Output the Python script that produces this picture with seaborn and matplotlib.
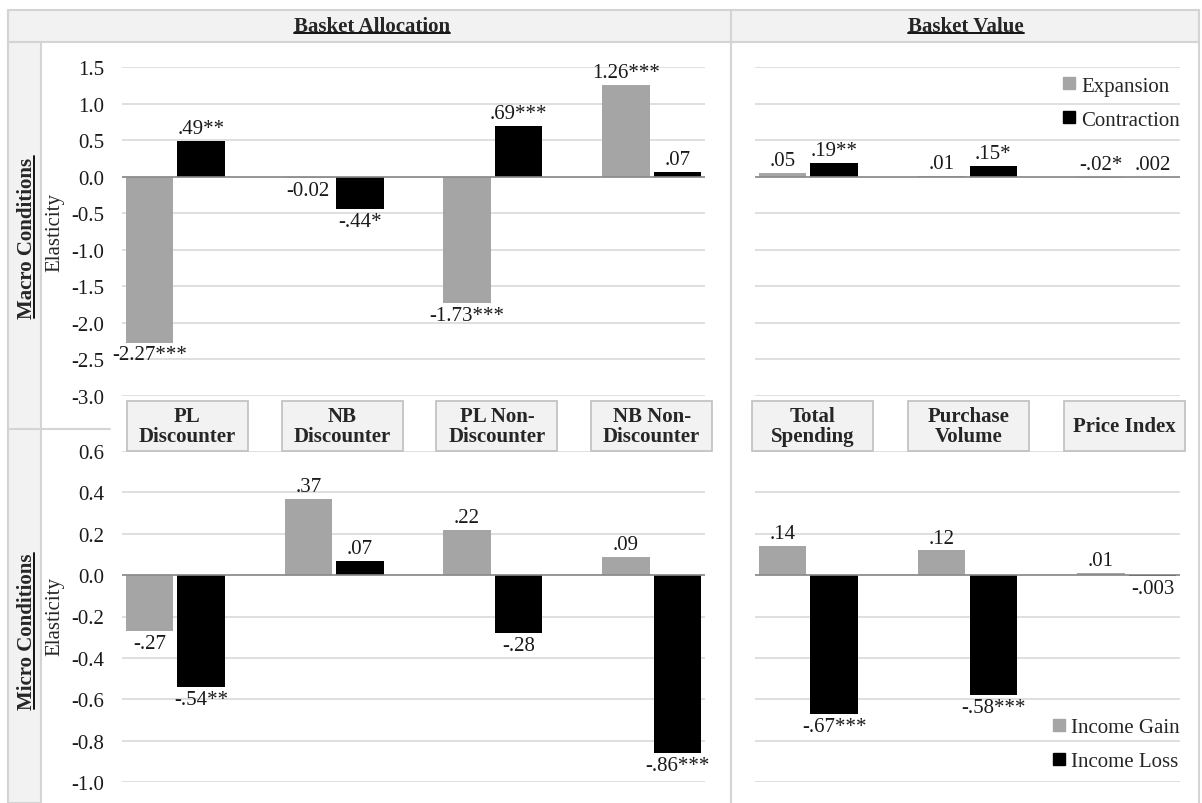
import numpy as np
import pandas as pd
import matplotlib
matplotlib.use("Agg")
import matplotlib.pyplot as plt
import seaborn as sns
from matplotlib.lines import Line2D
from matplotlib.patches import Rectangle

# ---------------- data ----------------
alloc_categories = ["PL\nDiscounter", "NB\nDiscounter", "PL Non-\nDiscounter", "NB Non-\nDiscounter"]
value_categories = ["Total\nSpending", "Purchase\nVolume", "Price Index"]

macro_series = ["Expansion", "Contraction"]
micro_series = ["Income Gain", "Income Loss"]

macro_alloc_expansion = [-2.27, -0.02, -1.73, 1.26]
macro_alloc_contraction = [0.49, -0.44, 0.69, 0.07]
macro_alloc_expansion_labels = ["-2.27***", "-0.02", "-1.73***", "1.26***"]
macro_alloc_contraction_labels = [".49**", "-.44*", ".69***", ".07"]

macro_value_expansion = [0.05, 0.01, -0.02]
macro_value_contraction = [0.19, 0.15, 0.002]
macro_value_expansion_labels = [".05", ".01", "-.02*"]
macro_value_contraction_labels = [".19**", ".15*", ".002"]

micro_alloc_gain = [-0.27, 0.37, 0.22, 0.09]
micro_alloc_loss = [-0.54, 0.07, -0.28, -0.86]
micro_alloc_gain_labels = ["-.27", ".37", ".22", ".09"]
micro_alloc_loss_labels = ["-.54**", ".07", "-.28", "-.86***"]

micro_value_gain = [0.14, 0.12, 0.01]
micro_value_loss = [-0.67, -0.58, -0.003]
micro_value_gain_labels = [".14", ".12", ".01"]
micro_value_loss_labels = ["-.67***", "-.58***", "-.003"]

macro_ticks = [-3.0, -2.5, -2.0, -1.5, -1.0, -0.5, 0.0, 0.5, 1.0, 1.5]
micro_ticks = [-1.0, -0.8, -0.6, -0.4, -0.2, 0.0, 0.2, 0.4, 0.6]

# ---------------- style ----------------
GRAY = "#a5a5a5"
BLACK = "#000000"
GRID = "#d9d9d9"
FRAME = "#d4d4d4"
FILL = "#f2f2f2"
FS = 15

sns.set_theme(style="white")
plt.rcParams["font.family"] = ["Liberation Serif", "DejaVu Serif"]
plt.rcParams["font.size"] = FS

W, H = 1202, 804
fig = plt.figure(figsize=(W / 100, H / 100), dpi=100)


def frac_box(x0, y0, x1, y1):
    return [x0 / W, 1 - y1 / H, (x1 - x0) / W, (y1 - y0) / H]


def fx(x):
    return x / W


def fy(y):
    return 1 - y / H


def tick_text(t):
    return "0.0" if abs(t) < 1e-9 else f"{t:.1f}"


# ---------------- table frame ----------------
fig.add_artist(Rectangle((fx(8), fy(43)), fx(1199) - fx(8), fy(11) - fy(43),
                         facecolor=FILL, edgecolor=FRAME, lw=1.5, transform=fig.transFigure, zorder=0))
fig.add_artist(Rectangle((fx(8), fy(804)), fx(41) - fx(8), fy(43) - fy(804),
                         facecolor=FILL, edgecolor=FRAME, lw=1.5, transform=fig.transFigure, zorder=0))
fig.add_artist(Line2D([fx(8), fx(8)], [fy(11), fy(804)], color=FRAME, lw=1.5, transform=fig.transFigure))
fig.add_artist(Line2D([fx(1199), fx(1199)], [fy(11), fy(804)], color=FRAME, lw=1.5, transform=fig.transFigure))
fig.add_artist(Line2D([fx(731), fx(731)], [fy(11), fy(804)], color=FRAME, lw=1.5, transform=fig.transFigure))
fig.add_artist(Line2D([fx(8), fx(110)], [fy(430), fy(430)], color=FRAME, lw=1.5, transform=fig.transFigure))

# ---------------- panels ----------------
ax_ma = fig.add_axes(frac_box(122, 68, 705, 397))
ax_mv = fig.add_axes(frac_box(755, 68, 1180, 397))
ax_ia = fig.add_axes(frac_box(122, 452, 705, 783))
ax_iv = fig.add_axes(frac_box(755, 452, 1180, 783))


def draw_panel(ax, cats, series, first, second, first_labels, second_labels,
               ticks, show_ticks, labels_above=()):
    df = pd.DataFrame({
        "category": list(cats) * 2,
        "series": [series[0]] * len(cats) + [series[1]] * len(cats),
        "value": list(first) + list(second),
    })
    sns.barplot(data=df, x="category", y="value", hue="series", order=cats,
                hue_order=series, palette=[GRAY, BLACK], width=0.65, gap=0.08,
                linewidth=0, errorbar=None, legend=False, ax=ax, zorder=3)
    ax.set_xlim(-0.335, len(cats) - 1 + 0.335)
    ax.set_ylim(ticks[0], ticks[-1])
    ax.set_yticks(ticks)
    ax.set_yticklabels([tick_text(t) for t in ticks] if show_ticks else [])
    ax.tick_params(axis="y", length=0, pad=13, labelsize=FS, labelcolor="#1a1a1a")
    ax.set_xticks([])
    ax.set_xlabel("")
    ax.set_ylabel("")
    ax.grid(axis="y", color=GRID, lw=1.2)
    ax.grid(axis="x", visible=False)
    ax.set_axisbelow(True)
    for s in ax.spines.values():
        s.set_visible(False)
    ax.patch.set_alpha(0)
    ax.axhline(0, color="#8a8a8a", lw=1.2, zorder=4)

    for cont, labs, ser in zip(ax.containers, [first_labels, second_labels], series):
        for bar, lab, cat in zip(cont, labs, cats):
            h = bar.get_height()
            xc = bar.get_x() + bar.get_width() / 2
            above = h >= 0 or (cat, ser) in labels_above
            if above:
                ax.annotate(lab, (xc, max(h, 0)), xytext=(0, 2), textcoords="offset points",
                            ha="center", va="bottom", fontsize=FS, color="#1a1a1a", zorder=5)
            else:
                ax.annotate(lab, (xc, min(h, 0)), xytext=(0, -2), textcoords="offset points",
                            ha="center", va="top", fontsize=FS, color="#1a1a1a", zorder=5)


draw_panel(ax_ma, alloc_categories, macro_series, macro_alloc_expansion, macro_alloc_contraction,
           macro_alloc_expansion_labels, macro_alloc_contraction_labels, macro_ticks, True)
draw_panel(ax_mv, value_categories, macro_series, macro_value_expansion, macro_value_contraction,
           macro_value_expansion_labels, macro_value_contraction_labels, macro_ticks, False,
           labels_above={("Price Index", "Expansion")})
draw_panel(ax_ia, alloc_categories, micro_series, micro_alloc_gain, micro_alloc_loss,
           micro_alloc_gain_labels, micro_alloc_loss_labels, micro_ticks, True)
draw_panel(ax_iv, value_categories, micro_series, micro_value_gain, micro_value_loss,
           micro_value_gain_labels, micro_value_loss_labels, micro_ticks, False)


def square_handles(names):
    return [Line2D([], [], marker="s", ls="none", color=c, markersize=8) for c in (GRAY, BLACK)], names


h, l = square_handles(macro_series)
ax_mv.legend(h, l, loc="upper right", bbox_to_anchor=(1.0, 1 - 9 / 329), frameon=False,
             borderpad=0, borderaxespad=0, handlelength=0.6, handletextpad=0.3,
             labelspacing=0.7, fontsize=FS)
h, l = square_handles(micro_series)
ax_iv.legend(h, l, loc="lower right", bbox_to_anchor=(1.0, 11 / 331), frameon=False,
             borderpad=0, borderaxespad=0, handlelength=0.6, handletextpad=0.3,
             labelspacing=0.7, fontsize=FS)

# ---------------- category boxes ----------------
BOX_W, BOX_TOP, BOX_BOT = 121, 402, 452
for i, cat in enumerate(alloc_categories):
    x0 = 127 + i * 154.7
    fig.add_artist(Rectangle((fx(x0), fy(BOX_BOT)), BOX_W / W, (BOX_BOT - BOX_TOP) / H,
                             facecolor=FILL, edgecolor="#bfbfbf", lw=1.2, transform=fig.transFigure))
    fig.text(fx(x0 + BOX_W / 2), fy((BOX_TOP + BOX_BOT) / 2), cat, ha="center", va="center",
             fontsize=FS, fontweight="bold", linespacing=1.05)
for i, cat in enumerate(value_categories):
    x0 = 752 + i * 156
    fig.add_artist(Rectangle((fx(x0), fy(BOX_BOT)), BOX_W / W, (BOX_BOT - BOX_TOP) / H,
                             facecolor=FILL, edgecolor="#bfbfbf", lw=1.2, transform=fig.transFigure))
    fig.text(fx(x0 + BOX_W / 2), fy((BOX_TOP + BOX_BOT) / 2), cat, ha="center", va="center",
             fontsize=FS, fontweight="bold", linespacing=1.05)

# ---------------- headers and row labels ----------------
headers = [
    fig.text(fx(372), fy(27), "Basket Allocation", ha="center", va="center", fontsize=FS, fontweight="bold"),
    fig.text(fx(966), fy(27), "Basket Value", ha="center", va="center", fontsize=FS, fontweight="bold"),
]
rows = [
    fig.text(fx(27), fy(238), "Macro Conditions", ha="center", va="center", rotation=90,
             fontsize=FS, fontweight="bold"),
    fig.text(fx(27), fy(632), "Micro Conditions", ha="center", va="center", rotation=90,
             fontsize=FS, fontweight="bold"),
]
fig.text(fx(55), fy(232), "Elasticity", ha="center", va="center", rotation=90, fontsize=FS)
fig.text(fx(55), fy(617), "Elasticity", ha="center", va="center", rotation=90, fontsize=FS)

fig.canvas.draw()
renderer = fig.canvas.get_renderer()
for t in headers:
    bb = t.get_window_extent(renderer)
    y = (bb.y0 + 3) / H
    fig.add_artist(Line2D([bb.x0 / W, bb.x1 / W], [y, y], color="black", lw=1.3, transform=fig.transFigure))
for t in rows:
    bb = t.get_window_extent(renderer)
    x = (bb.x1 - 3) / W
    fig.add_artist(Line2D([x, x], [bb.y0 / H, bb.y1 / H], color="black", lw=1.3, transform=fig.transFigure))

fig.savefig("out.png", dpi=100, facecolor="white")
